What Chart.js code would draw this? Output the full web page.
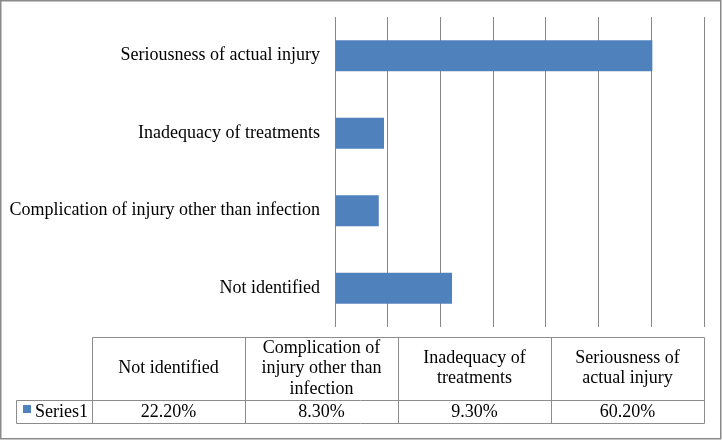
<!DOCTYPE html>
<html><head><meta charset="utf-8">
<script src="https://cdn.jsdelivr.net/npm/chart.js@4.4.1/dist/chart.umd.min.js"></script>
<style>html,body{margin:0;padding:0;background:#fff}#wrap{width:722px;height:440px;position:relative}</style>
</head><body><div id="wrap"><canvas id="c"></canvas></div>
<script>
// ---- data ----
const categories = ['Not identified', 'Complication of injury other than infection', 'Inadequacy of treatments', 'Seriousness of actual injury'];
const seriesName = 'Series1';
const seriesValues = [22.2, 8.3, 9.3, 60.2];
const axisMin = 0, axisMax = 70, axisStep = 10;

// ---- styles ----
const FONT = '"Liberation Serif", "Times New Roman", serif';
const BAR = '#4F81BD';
const GRID = '#868686';
const TABLE_LINE = '#8c8c8c';

function wrapText(ctx, text, maxW) {
  const words = text.split(' ');
  const lines = [];
  let cur = '';
  for (const w of words) {
    const t = cur ? cur + ' ' + w : w;
    if (cur && ctx.measureText(t).width > maxW) { lines.push(cur); cur = w; }
    else cur = t;
  }
  if (cur) lines.push(cur);
  return lines;
}

const tablePlugin = {
  id: 'dataTable',
  afterDraw(chart) {
    const ctx = chart.ctx;
    const area = chart.chartArea;
    const left = 16, keyRight = 92, right = Math.round(area.right);
    const top = 337, mid = 400, bottom = 423;
    const n = categories.length;
    const colW = (right - keyRight) / n;
    const px = v => Math.round(v) + 0.5;
    ctx.save();
    ctx.strokeStyle = TABLE_LINE;
    ctx.lineWidth = 1;
    ctx.beginPath();
    ctx.moveTo(px(keyRight), px(top)); ctx.lineTo(px(right), px(top));
    ctx.moveTo(px(left), px(mid)); ctx.lineTo(px(right), px(mid));
    ctx.moveTo(px(left), px(bottom)); ctx.lineTo(px(right), px(bottom));
    ctx.moveTo(px(left), px(mid)); ctx.lineTo(px(left), px(bottom));
    for (let i = 0; i <= n; i++) {
      const x = px(keyRight + i * colW);
      ctx.moveTo(x, px(top)); ctx.lineTo(x, px(bottom));
    }
    ctx.stroke();

    ctx.fillStyle = '#000';
    ctx.font = '18px ' + FONT;
    ctx.textAlign = 'center';
    ctx.textBaseline = 'middle';
    const lh = 20.5;
    const hc = (top + mid) / 2;
    const dc = (mid + bottom) / 2;
    categories.forEach((c, i) => {
      const cx = keyRight + (i + 0.5) * colW;
      const lines = wrapText(ctx, c, colW - 14);
      const y0 = hc - (lines.length - 1) * lh / 2;
      lines.forEach((l, j) => ctx.fillText(l, cx, y0 + j * lh));
      ctx.fillText(seriesValues[i].toFixed(2) + '%', cx, dc + 1);
    });
    // legend key
    ctx.fillStyle = BAR;
    ctx.fillRect(23, 405, 8, 8);
    ctx.fillStyle = '#000';
    ctx.textAlign = 'left';
    ctx.fillText(seriesName, 35, dc + 1);

    // outer border
    ctx.strokeStyle = '#8a8a8a';
    ctx.lineWidth = 1.5;
    ctx.strokeRect(0.75, 0.75, 720, 438);
    ctx.restore();
  }
};

new Chart(document.getElementById('c'), {
  type: 'bar',
  data: {
    labels: categories,
    datasets: [{
      label: seriesName,
      data: seriesValues,
      backgroundColor: BAR,
      borderWidth: 0,
      barPercentage: 0.4,
      categoryPercentage: 1.0
    }]
  },
  options: {
    indexAxis: 'y',
    responsive: true,
    maintainAspectRatio: false,
    animation: false,
    layout: { padding: { top: 17, right: 18, bottom: 113, left: 0 } },
    plugins: { legend: { display: false }, tooltip: { enabled: false } },
    scales: {
      x: {
        min: axisMin, max: axisMax,
        ticks: { display: false, stepSize: axisStep },
        grid: { color: GRID, lineWidth: 1, drawTicks: false },
        border: { display: false },
        afterFit(s) { s.height = 0; s.paddingLeft = 0; s.paddingRight = 0; }
      },
      y: {
        reverse: true,
        ticks: { color: '#000', font: { family: FONT, size: 18 }, padding: 15 },
        grid: { display: false, drawTicks: false },
        border: { display: false },
        afterFit(s) { s.width = 335; s.paddingTop = 0; s.paddingBottom = 0; }
      }
    }
  },
  plugins: [tablePlugin]
});
</script>
</body></html>
